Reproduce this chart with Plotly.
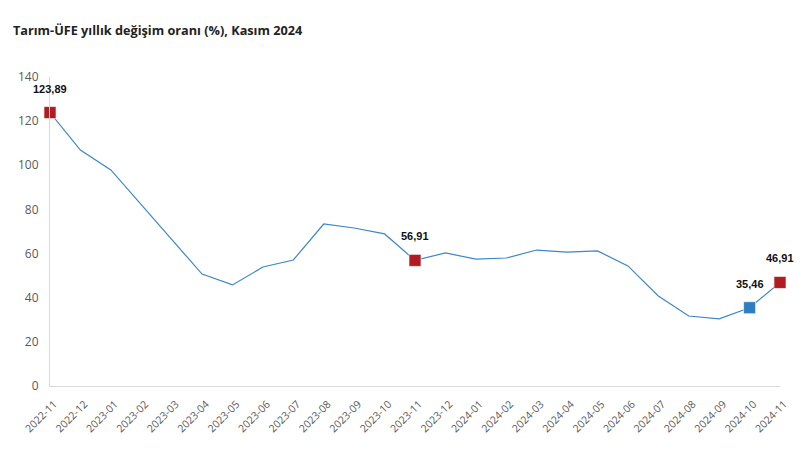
import plotly.graph_objects as go

months = ["2022-11","2022-12","2023-01","2023-02","2023-03","2023-04","2023-05","2023-06",
          "2023-07","2023-08","2023-09","2023-10","2023-11","2023-12","2024-01","2024-02",
          "2024-03","2024-04","2024-05","2024-06","2024-07","2024-08","2024-09","2024-10","2024-11"]
values = [123.89, 106.9, 97.9, 82.0, 66.6, 50.7, 45.8, 53.9, 57.1, 73.4, 71.6, 68.9, 56.91,
          60.3, 57.5, 58.0, 61.6, 60.7, 61.2, 54.4, 40.8, 31.7, 30.4, 35.46, 46.91]
hl_red = ["2022-11", "2023-11", "2024-11"]
hl_blue = ["2024-10"]

idx = list(range(len(months)))
fig = go.Figure()
fig.add_trace(go.Scatter(x=idx, y=values, mode="lines",
                         line=dict(color="#3d87c6", width=1.2), cliponaxis=False,
                         hoverinfo="skip"))

def add_marks(labels, color):
    xs = [months.index(m) for m in labels]
    ys = [values[i] for i in xs]
    fig.add_trace(go.Scatter(x=xs, y=ys, mode="markers", cliponaxis=False,
                             marker=dict(symbol="square", size=12, color=color,
                                         line=dict(color="rgba(255,255,255,0.6)", width=1))))
    for x, y in zip(xs, ys):
        fig.add_annotation(x=x, y=y, text="<b>" + f"{y:.2f}".replace(".", ",") + "</b>",
                           showarrow=False, yshift=24,
                           font=dict(family="Liberation Sans", size=11, color="#111"),
                           xanchor="center", yanchor="middle")

add_marks(hl_red, "#b01c22")
add_marks(hl_blue, "#2f7fc0")

fig.update_layout(
    width=811, height=463, showlegend=False,
    plot_bgcolor="white", paper_bgcolor="white",
    margin=dict(l=50, r=31, t=77, b=77),
    title=dict(text="<b>Tarım-ÜFE yıllık değişim oranı (%), Kasım 2024</b>",
               x=0.016, xanchor="left", y=0.935, yanchor="middle",
               font=dict(family="Open Sans", size=12.7, color="#222")),
    font=dict(family="Open Sans", color="#595959"),
)
fig.update_xaxes(range=[0, len(months) - 1], tickvals=idx, ticktext=months, tickangle=-45,
                 showgrid=False, showline=True, linecolor="#d9d9d9", linewidth=1,
                 ticks="", tickfont=dict(size=10.5, color="#595959"), zeroline=False,
                 automargin=False, ticklabelstandoff=7, ticklabelshift=4)
fig.update_yaxes(range=[0, 140], dtick=20, showgrid=False, showline=True,
                 linecolor="#d9d9d9", linewidth=1, ticks="", zeroline=False,
                 tickfont=dict(size=12, color="#595959"), ticklabelstandoff=8)

fig.write_html("out.html")
